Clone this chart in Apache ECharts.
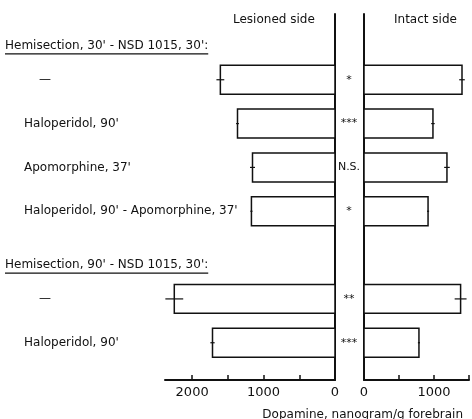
<!DOCTYPE html>
<html>
<head>
<meta charset="utf-8">
<script src="https://cdn.jsdelivr.net/npm/echarts@6/dist/echarts.min.js"></script>
<style>
  html, body { margin: 0; padding: 0; background: #fff; }
  #main { width: 472px; height: 419px; }
</style>
</head>
<body>
<div id="main"></div>
<script>
// rows top to bottom, headings included (they have no bars)
const rowLabels = [
  'Hemisection, 30\' - NSD 1015, 30\':',
  '—',
  'Haloperidol, 90\'',
  'Apomorphine, 37\'',
  'Haloperidol, 90\' - Apomorphine, 37\'',
  'Hemisection, 90\' - NSD 1015, 30\':',
  '—',
  'Haloperidol, 90\'',
];
const isHeading = [true, false, false, false, false, true, false, false];

// dopamine, nanogram/g forebrain
const lesioned    = [null, 1605, 1365, 1155, 1170, null, 2250, 1715];
const lesionedErr = [null, 55, 20, 35, 15, null, 125, 30];
const intact      = [null, 1400, 985, 1185, 915, null, 1380, 785];
const intactErr   = [null, 40, 25, 40, 15, null, 85, 15];
const significance = ['', '*', '***', 'N.S.', '*', '', '**', '***'];

const leftTicks   = [0, 500, 1000, 1500, 2000];
const leftLabels  = [0, 1000, 2000];
const rightTicks  = [0, 500, 1000, 1500];
const rightLabels = [0, 1000];

const FONT = 'DejaVu Sans';
const Y_MAX = 8.35;

const measure = document.createElement('canvas').getContext('2d');
measure.font = '12px "' + FONT + '"';

function barData(vals, errs) {
  const out = [];
  vals.forEach((v, i) => {
    if (v != null) out.push([v, i + 0.5, errs[i], i]);
  });
  return out;
}

function renderBar(withSig) {
  return function (params, api) {
    const v = api.value(0);
    const p = api.value(1);
    const e = api.value(2);
    const idx = api.value(3);
    const start = api.coord([0, p]);
    const end = api.coord([v, p]);
    const h = api.size([0, 0.66])[1];
    const lo = api.coord([v - e, p]);
    const hi = api.coord([v + e, p]);
    const children = [
      {
        type: 'rect',
        shape: {
          x: Math.min(start[0], end[0]),
          y: start[1] - h / 2,
          width: Math.abs(end[0] - start[0]),
          height: h,
        },
        style: { fill: '#fff', stroke: '#111', lineWidth: 1.5 },
      },
      {
        type: 'line',
        shape: { x1: lo[0], y1: lo[1], x2: hi[0], y2: hi[1] },
        style: { stroke: '#111', lineWidth: 1.2 },
      },
    ];
    if (withSig) {
      children.push({
        type: 'text',
        style: {
          x: start[0] - 15,
          y: start[1],
          text: significance[idx],
          fill: '#111',
          font: '11px "' + FONT + '"',
          align: 'center',
          verticalAlign: 'middle',
        },
      });
    }
    return { type: 'group', children: children };
  };
}

function renderLabel(params, api) {
  const p = api.value(0);
  const idx = api.value(1);
  const pt = api.coord([0, p]);
  const text = rowLabels[idx];
  if (isHeading[idx]) {
    const w = measure.measureText(text).width;
    return {
      type: 'group',
      children: [
        {
          type: 'text',
          style: {
            x: pt[0] + 5, y: pt[1] + 10, text: text, fill: '#111',
            font: '12px "' + FONT + '"', align: 'left', verticalAlign: 'middle',
          },
        },
        {
          type: 'line',
          shape: { x1: pt[0] + 5, y1: pt[1] + 18, x2: pt[0] + 5 + w, y2: pt[1] + 18 },
          style: { stroke: '#111', lineWidth: 1.2 },
        },
      ],
    };
  }
  if (text === '—') {
    return {
      type: 'text',
      style: {
        x: pt[0] + 45, y: pt[1], text: text, fill: '#111',
        font: '12px "' + FONT + '"', align: 'center', verticalAlign: 'middle',
      },
    };
  }
  return {
    type: 'text',
    style: {
      x: pt[0] + 24, y: pt[1], text: text, fill: '#111',
      font: '12px "' + FONT + '"', align: 'left', verticalAlign: 'middle',
    },
  };
}

const axisText = {
  color: '#111', fontFamily: FONT, fontSize: 13, margin: 6,
  formatter: (v) => String(v),
};
const hiddenY = (gi, pos, showLine) => ({
  type: 'value', gridIndex: gi, inverse: true, min: 0, max: Y_MAX, position: pos,
  axisLine: { show: showLine, onZero: false, lineStyle: { color: '#111', width: 2 } },
  axisTick: { show: false }, axisLabel: { show: false }, splitLine: { show: false },
});

const myChart = echarts.init(document.getElementById('main'));
myChart.setOption({
  animation: false,
  backgroundColor: '#fff',
  title: [
    { text: 'Lesioned side', left: 228, top: 9, textStyle: { color: '#111', fontFamily: FONT, fontSize: 12, fontWeight: 'normal' } },
    { text: 'Intact side', left: 389, top: 9, textStyle: { color: '#111', fontFamily: FONT, fontSize: 12, fontWeight: 'normal' } },
    { text: 'Dopamine, nanogram/g forebrain', right: 4, top: 404, textStyle: { color: '#111', fontFamily: FONT, fontSize: 12, fontWeight: 'normal' } },
  ],
  grid: [
    { left: 0, width: 165, top: 14, bottom: 39 },
    { left: 165, width: 170, top: 14, bottom: 39 },
    { left: 364, width: 105, top: 14, bottom: 39 },
  ],
  xAxis: [
    { type: 'value', gridIndex: 0, min: 0, max: 1, show: false },
    {
      type: 'value', gridIndex: 1, inverse: true, min: 0, max: 2380,
      axisLine: { show: true, onZero: false, lineStyle: { color: '#111', width: 2 } },
      axisTick: { show: true, inside: true, length: 5, customValues: leftTicks, lineStyle: { color: '#111', width: 1.5 } },
      axisLabel: Object.assign({ customValues: leftLabels }, axisText),
      splitLine: { show: false },
    },
    {
      type: 'value', gridIndex: 2, min: 0, max: 1500,
      axisLine: { show: true, onZero: false, lineStyle: { color: '#111', width: 2 } },
      axisTick: { show: true, inside: true, length: 5, customValues: rightTicks, lineStyle: { color: '#111', width: 1.5 } },
      axisLabel: Object.assign({ customValues: rightLabels }, axisText),
      splitLine: { show: false },
    },
  ],
  yAxis: [
    hiddenY(0, 'left', false),
    hiddenY(1, 'right', true),
    hiddenY(2, 'left', true),
  ],
  series: [
    {
      type: 'custom', xAxisIndex: 0, yAxisIndex: 0,
      data: rowLabels.map((t, i) => [i + 0.5, i]),
      renderItem: renderLabel,
    },
    {
      type: 'custom', xAxisIndex: 1, yAxisIndex: 1,
      data: barData(lesioned, lesionedErr),
      renderItem: renderBar(false),
    },
    {
      type: 'custom', xAxisIndex: 2, yAxisIndex: 2,
      data: barData(intact, intactErr),
      renderItem: renderBar(true),
    },
  ],
});
</script>
</body>
</html>
